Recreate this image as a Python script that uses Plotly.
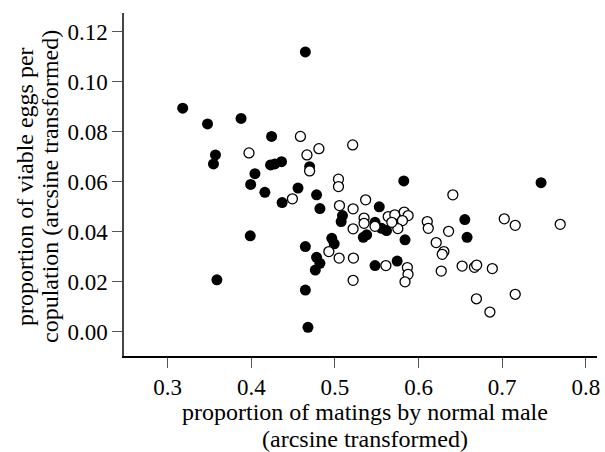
import plotly.graph_objects as go

# filled circles
filled_x = [0.4646, 0.3179, 0.3476, 0.3877, 0.4242, 0.3571, 0.3547, 0.4043, 0.4230, 0.4281,
            0.4361, 0.4697, 0.3992, 0.4162, 0.4368, 0.4558, 0.4780, 0.4820, 0.5090, 0.5074,
            0.5530, 0.5479, 0.5557, 0.5617, 0.5379, 0.5339, 0.5823, 0.7465, 0.5838, 0.6553,
            0.6580, 0.3987, 0.4646, 0.4962, 0.4991, 0.4780, 0.4820, 0.4765, 0.5479, 0.5744,
            0.3588, 0.4646, 0.4677]
filled_y = [0.1120, 0.0895, 0.0832, 0.0854, 0.0782, 0.0708, 0.0672, 0.0633, 0.0668, 0.0672,
            0.0681, 0.0661, 0.0590, 0.0558, 0.0517, 0.0575, 0.0548, 0.0493, 0.0465, 0.0441,
            0.0500, 0.0438, 0.0414, 0.0405, 0.0388, 0.0378, 0.0604, 0.0597, 0.0368, 0.0449,
            0.0378, 0.0384, 0.0341, 0.0374, 0.0352, 0.0298, 0.0274, 0.0247, 0.0265, 0.0283,
            0.0208, 0.0167, 0.0018]

# open circles
open_x = [0.4587, 0.3972, 0.4665, 0.4808, 0.5212, 0.4697, 0.5042, 0.5042, 0.4491, 0.5054,
          0.5217, 0.5217, 0.5367, 0.5348, 0.5348, 0.5479, 0.5637, 0.5716, 0.5828, 0.5875,
          0.5807, 0.5752, 0.5680, 0.6104, 0.6116, 0.6359, 0.6211, 0.6303, 0.6283, 0.7025,
          0.7156, 0.7694, 0.6410, 0.4927, 0.5050, 0.5221, 0.5217, 0.5609, 0.5866, 0.5874,
          0.5838, 0.6271, 0.6521, 0.6668, 0.6695, 0.6882, 0.6692, 0.7156, 0.6853]
open_y = [0.0782, 0.0716, 0.0708, 0.0733, 0.0748, 0.0644, 0.0611, 0.0581, 0.0532, 0.0505,
          0.0492, 0.0412, 0.0528, 0.0455, 0.0434, 0.0422, 0.0461, 0.0468, 0.0479, 0.0465,
          0.0445, 0.0413, 0.0438, 0.0441, 0.0414, 0.0402, 0.0357, 0.0321, 0.0310, 0.0452,
          0.0426, 0.0430, 0.0548, 0.0321, 0.0295, 0.0295, 0.0206, 0.0265, 0.0257, 0.0230,
          0.0200, 0.0243, 0.0263, 0.0258, 0.0267, 0.0253, 0.0132, 0.0150, 0.0079]

x_ticks = [0.3, 0.4, 0.5, 0.6, 0.7, 0.8]
x_tick_labels = ["0.3", "0.4", "0.5", "0.6", "0.7", "0.8"]
y_ticks = [0.00, 0.02, 0.04, 0.06, 0.08, 0.10, 0.12]
y_tick_labels = ["0.00", "0.02", "0.04", "0.06", "0.08", "0.10", "0.12"]

x_title_lines = ["proportion of matings by normal male", "(arcsine transformed)"]
y_title_lines = ["proportion of viable eggs per", "copulation (arcsine transformed)"]

FONT = "Liberation Serif, Times New Roman, serif"
FS = 24
TFS = 23

fig = go.Figure()
fig.add_trace(go.Scatter(
    x=filled_x, y=filled_y, mode="markers",
    marker=dict(symbol="circle", size=11, color="black", line=dict(width=0)),
    showlegend=False, hoverinfo="skip"))
fig.add_trace(go.Scatter(
    x=open_x, y=open_y, mode="markers",
    marker=dict(symbol="circle", size=10, color="white", line=dict(width=1.3, color="black")),
    showlegend=False, hoverinfo="skip"))

annotations = [
    dict(text=x_title_lines[0], xref="paper", yref="paper", x=0.5105, y=0,
         xanchor="center", yanchor="middle", yshift=-56, showarrow=False,
         font=dict(family=FONT, size=FS, color="black")),
    dict(text=x_title_lines[1], xref="paper", yref="paper", x=0.5105, y=0,
         xanchor="center", yanchor="middle", yshift=-83, showarrow=False,
         font=dict(family=FONT, size=FS, color="black")),
    dict(text=y_title_lines[0], xref="paper", yref="paper", x=0, y=0.4927,
         xanchor="center", yanchor="middle", xshift=-99, textangle=-90, showarrow=False,
         font=dict(family=FONT, size=FS, color="black")),
    dict(text=y_title_lines[1], xref="paper", yref="paper", x=0, y=0.4927,
         xanchor="center", yanchor="middle", xshift=-74, textangle=-90, showarrow=False,
         font=dict(family=FONT, size=FS, color="black")),
]

fig.update_layout(
    width=605, height=452,
    margin=dict(l=124, r=5, t=13, b=96),
    paper_bgcolor="white", plot_bgcolor="white",
    font=dict(family=FONT, size=FS, color="black"),
    xaxis=dict(range=[0.2477, 0.8134], tickvals=x_ticks, ticktext=x_tick_labels,
               showgrid=False, zeroline=False, showline=True, linecolor="black", linewidth=1.5,
               ticks="outside", ticklen=10, tickcolor="#555", tickwidth=1,
               tickfont=dict(family=FONT, size=TFS, color="black")),
    yaxis=dict(range=[-0.0097, 0.1276], tickvals=y_ticks, ticktext=y_tick_labels,
               showgrid=False, zeroline=False, showline=True, linecolor="#444", linewidth=1.5,
               ticks="outside", ticklen=10, tickcolor="#555", tickwidth=1,
               tickfont=dict(family=FONT, size=TFS, color="black")),
    annotations=annotations,
)

fig.write_html("out.html", config={"displayModeBar": False},
               post_script="document.body.style.margin='0';document.body.style.padding='0';")
